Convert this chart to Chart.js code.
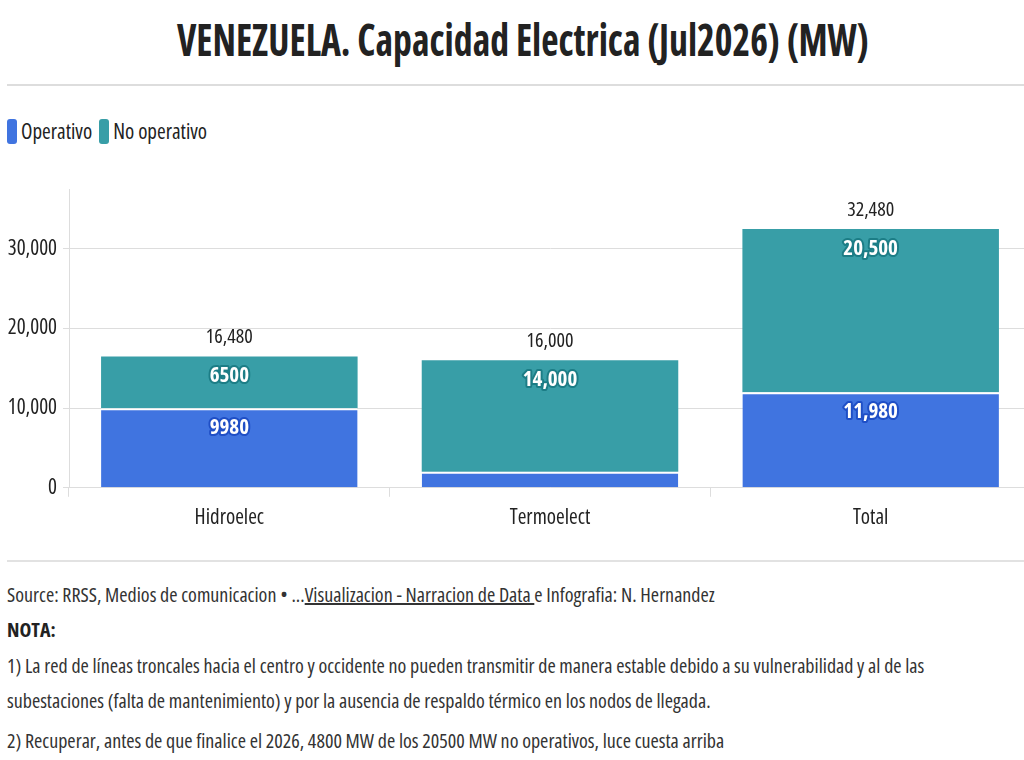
<!DOCTYPE html>
<html>
<head>
<meta charset="utf-8">
<script src="https://cdn.jsdelivr.net/npm/chart.js@4/dist/chart.umd.min.js"></script>
<style>
  html, body { margin: 0; padding: 0; background: #fff; }
  body { width: 1024px; height: 760px; position: relative; overflow: hidden;
         font-family: "Open Sans", sans-serif; font-stretch: condensed; color: #333; }
  #title { position: absolute; top: 8px; left: 11px; width: 1024px; text-align: center; white-space: nowrap; }
  #title span { display: inline-block; font-size: 45px; font-weight: bold; color: #222;
                transform: scaleX(0.84); transform-origin: 50% 50%; }
  #rule1 { position: absolute; top: 84px; left: 7px; right: 0; height: 2px; background: #ddd; }
  #legend { position: absolute; top: 117px; left: 7px; font-size: 21px; color: #222; display: flex; align-items: center; }
  .sw { display: inline-block; width: 10px; height: 25px; border-radius: 3px; margin-right: 4px; }
  .li { display: flex; align-items: center; margin-right: 7px; }
  #wrap { position: absolute; top: 170px; left: 0; width: 1031px; height: 380px; }
  #rule2 { position: absolute; top: 560px; left: 7px; right: 0; height: 2px; background: #e2e2e2; }
  #notes { position: absolute; top: 577px; left: 7px; font-size: 20px; color: #333; white-space: nowrap; }
  #notes div { height: 35px; line-height: 35px; }
  #notes b { color: #222; }
</style>
</head>
<body>
<div id="title"><span>VENEZUELA. Capacidad Electrica (Jul2026) (MW)</span></div>
<div id="rule1"></div>
<div id="legend"></div>
<div id="wrap"><canvas id="c"></canvas></div>
<div id="rule2"></div>
<div id="notes">
  <div>Source: RRSS, Medios de comunicacion • ...<u>Visualizacion - Narracion de Data </u>e Infografia: N. Hernandez</div>
  <div style="height:36px;line-height:36px"><b>NOTA:</b></div>
  <div>1) La red de líneas troncales hacia el centro y occidente no pueden transmitir de manera estable debido a su vulnerabilidad y al de las</div>
  <div>subestaciones (falta de mantenimiento) y por la ausencia de respaldo térmico en los nodos de llegada.</div>
  <div style="margin-top:5px">2) Recuperar, antes de que finalice el 2026, 4800 MW de los 20500 MW no operativos, luce cuesta arriba</div>
</div>
<script>
const categories = ["Hidroelec", "Termoelect", "Total"];
const operativo = [9980, 2000, 11980];
const noOperativo = [6500, 14000, 20500];
const totals = [16480, 16000, 32480];
const yTicks = [0, 10000, 20000, 30000];
const seriesNames = ["Operativo", "No operativo"];
const colors = ["#4074e0", "#389ea7"];
const outline = ["#1f4fc6", "#1c7d86"];

const FAM = '"Open Sans", sans-serif';

const lg = document.getElementById('legend');
seriesNames.forEach((n, i) => {
  const d = document.createElement('span'); d.className = 'li';
  d.innerHTML = '<span class="sw" style="background:' + colors[i] + '"></span>' + n;
  lg.appendChild(d);
});

function fmt(v) { return v >= 10000 ? v.toLocaleString('en-US') : String(v); }

const labelPlugin = {
  id: 'labels',
  afterDatasetsDraw(chart) {
    const ctx = chart.ctx;
    ctx.save();
    ctx.textAlign = 'center';
    ctx.textBaseline = 'middle';
    chart.data.datasets.forEach((ds, di) => {
      const meta = chart.getDatasetMeta(di);
      meta.data.forEach((bar, i) => {
        const v = ds.data[i];
        const h = Math.abs(bar.base - bar.y);
        if (h < 40) return;
        ctx.font = 'condensed bold 21px ' + FAM;
        ctx.lineJoin = 'round';
        ctx.lineWidth = 4;
        ctx.strokeStyle = outline[di];
        ctx.strokeText(fmt(v), bar.x, bar.y + 20);
        ctx.fillStyle = '#fff';
        ctx.fillText(fmt(v), bar.x, bar.y + 20);
      });
    });
    const top = chart.getDatasetMeta(1);
    top.data.forEach((bar, i) => {
      ctx.font = 'condensed 20px ' + FAM;
      ctx.fillStyle = '#222';
      ctx.fillText(fmt(totals[i]), bar.x, bar.y - 19);
    });
    ctx.restore();
  }
};

function draw() {
  new Chart(document.getElementById('c'), {
    type: 'bar',
    data: {
      labels: categories,
      datasets: [
        { label: seriesNames[0], data: operativo, backgroundColor: colors[0],
          borderColor: '#fff', borderWidth: { top: 2, left: 0, right: 0, bottom: 0 }, borderSkipped: false },
        { label: seriesNames[1], data: noOperativo, backgroundColor: colors[1], borderWidth: 0 }
      ]
    },
    options: {
      responsive: true, maintainAspectRatio: false, animation: false,
      layout: { padding: { top: 19, right: 0, left: 0, bottom: 10 } },
      plugins: { legend: { display: false }, tooltip: { enabled: false } },
      datasets: { bar: { barPercentage: 1, categoryPercentage: 0.8 } },
      scales: {
        x: {
          stacked: true,
          grid: { display: true, drawOnChartArea: false, drawTicks: true, tickLength: 9, color: '#ddd' },
          border: { display: true, color: '#ddd' },
          ticks: { color: '#222', font: { family: FAM, weight: 'condensed', size: 21 }, padding: 9 }
        },
        y: {
          stacked: true, min: 0, max: 37500,
          afterBuildTicks(s) { s.ticks = yTicks.map(v => ({ value: v })); },
          afterFit(s) { s.width = 69; },
          grid: { color: '#ddd', tickLength: 6 },
          border: { display: true, color: '#ddd' },
          ticks: { color: '#222', font: { family: FAM, weight: 'condensed', size: 21 }, padding: 6,
                   callback: v => v.toLocaleString('en-US') }
        }
      }
    },
    plugins: [labelPlugin]
  });
}
Promise.all([
  document.fonts.load('condensed 21px "Open Sans"'),
  document.fonts.load('condensed bold 21px "Open Sans"')
]).then(draw, draw);
</script>
</body>
</html>
